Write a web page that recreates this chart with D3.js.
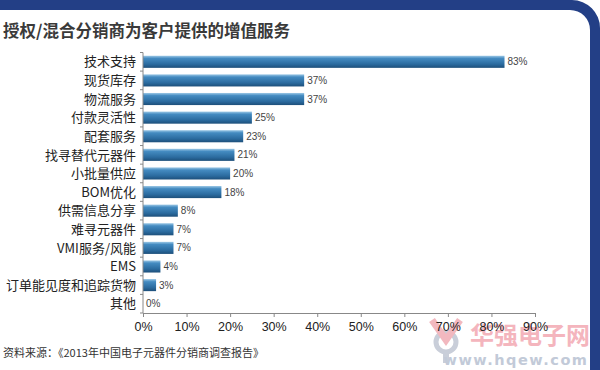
<!DOCTYPE html>
<html><head><meta charset="utf-8">
<script src="https://cdn.jsdelivr.net/npm/d3@7/dist/d3.min.js"></script>
<style>
html,body{margin:0;padding:0;background:#fff;}
svg{display:block;}
</style></head>
<body>
<script>
const categories = ["技术支持","现货库存","物流服务","付款灵活性","配套服务","找寻替代元器件","小批量供应","BOM优化","供需信息分享","难寻元器件","VMI服务/风能","EMS","订单能见度和追踪货物","其他"];
const values = [83,37,37,25,23,21,20,18,8,7,7,4,3,0];
const xTicks = [0,10,20,30,40,50,60,70,80,90];
const title = "授权/混合分销商为客户提供的增值服务";
const source = "资料来源：《2013年中国电子元器件分销商调查报告》";

const W = 600, H = 370;
const svg = d3.select("body").append("svg").attr("width", W).attr("height", H);
const cjk = "'Noto Sans CJK SC','Noto Sans',sans-serif";
const lat = "'Liberation Sans',Arial,sans-serif";

const defs = svg.append("defs");
const g = defs.append("linearGradient").attr("id","bar").attr("x1",0).attr("y1",0).attr("x2",0).attr("y2",1);
g.append("stop").attr("offset","0%").attr("stop-color","#9cc8e6");
g.append("stop").attr("offset","22%").attr("stop-color","#448bc1");
g.append("stop").attr("offset","70%").attr("stop-color","#2b6b9f");
g.append("stop").attr("offset","100%").attr("stop-color","#1d4f7a");

// watermark
const wm = svg.append("g");
wm.append("circle").attr("cx",446).attr("cy",342).attr("r",10).attr("fill","none").attr("stroke","#c9ced9").attr("stroke-width",5);
wm.append("path").attr("d","M432,320 L446,340 L460,320").attr("fill","none").attr("stroke","#f2b8bf").attr("stroke-width",7);
wm.append("rect").attr("x",443).attr("y",350).attr("width",6).attr("height",13).attr("fill","#c9ced9");
wm.append("text").attr("x",530).attr("y",344).attr("text-anchor","middle")
  .attr("font-family",cjk).attr("font-weight","bold").attr("font-size",24).attr("fill","#f4b5bd")
  .text("华强电子网");
wm.append("text").attr("x",516).attr("y",365).attr("text-anchor","middle")
  .attr("font-family","'DejaVu Sans',sans-serif").attr("font-weight","bold").attr("font-size",14.5)
  .attr("letter-spacing",1.5).attr("fill","#c2cad8")
  .text("www.hqew.com");

// frame: top band + rounded corner + right strip
svg.append("path")
  .attr("d", "M0,0 H572 A28,28 0 0 1 600,28 V370 H590 V30 A20,20 0 0 0 570,10 H0 Z")
  .attr("fill", "#233f86");

// title
svg.append("text").attr("x",3).attr("y",37).attr("font-family",cjk).attr("font-weight","bold")
  .attr("font-size",16.5).attr("fill","#3a3a3a").text(title);

const x = d3.scaleLinear().domain([0,90]).range([143,535]);
const y = d3.scaleBand().domain(categories).range([52.5,313]).paddingInner(0.35).paddingOuter(0.175);

// bars
svg.append("g").selectAll("rect").data(values).join("rect")
  .attr("x", x(0)).attr("y",(d,i)=>y(categories[i]))
  .attr("width",d=>x(d)-x(0)).attr("height",y.bandwidth())
  .attr("fill","url(#bar)");

// value labels
svg.append("g").selectAll("text").data(values).join("text")
  .attr("x",d=>x(d)+3).attr("y",(d,i)=>y(categories[i])+y.bandwidth()/2)
  .attr("dy","0.35em").attr("font-family",lat).attr("font-size",10).attr("fill","#444")
  .text(d=>d+"%");

// y axis
const yAx = svg.append("g").attr("transform",`translate(${x(0)},0)`);
yAx.append("line").attr("x1",0).attr("x2",0).attr("y1",52.5).attr("y2",313).attr("stroke","#888");
const step = y.step();
d3.range(categories.length+1).forEach(i=>{
  const yy = 52.5 + i*step;
  yAx.append("line").attr("x1",-3).attr("x2",0).attr("y1",yy).attr("y2",yy).attr("stroke","#888");
});
svg.append("g").selectAll("text").data(categories).join("text")
  .attr("x",136).attr("y",d=>y(d)+y.bandwidth()/2).attr("dy","0.36em")
  .attr("text-anchor","end").attr("font-family",cjk).attr("font-size",13).attr("fill","#222")
  .text(d=>d);

// x axis
const xAxis = d3.axisBottom(x).tickValues(xTicks).tickFormat(d=>d+"%").tickSize(4).tickSizeOuter(0);
const xg = svg.append("g").attr("transform","translate(0,313)").call(xAxis);
xg.select(".domain").attr("stroke","#888");
xg.selectAll(".tick line").attr("stroke","#888");
xg.selectAll("text").attr("font-family",lat).attr("font-size",12.5).attr("fill","#222").attr("dy","0.9em");

// source
svg.append("text").attr("x",3).attr("y",357).attr("font-family",cjk).attr("font-size",11)
  .attr("fill","#333").text(source);
</script>
</body></html>
